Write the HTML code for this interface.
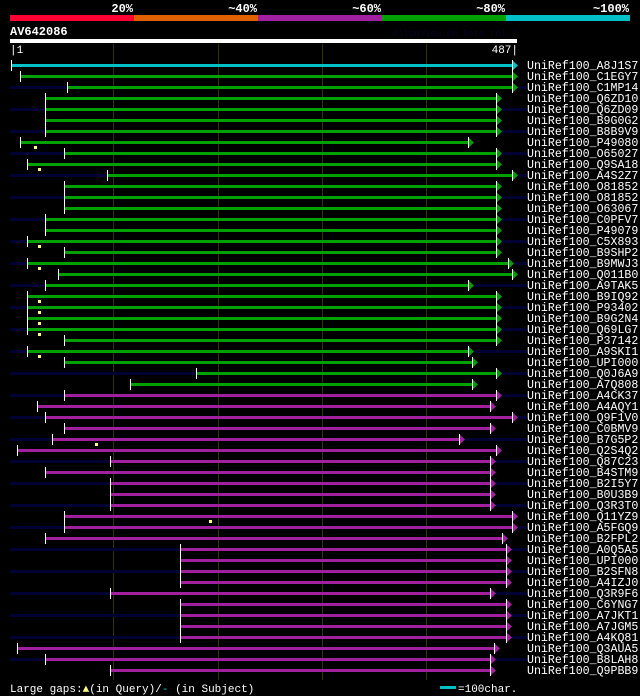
<!DOCTYPE html>
<html><head><meta charset="utf-8"><style>
body{margin:0;background:#000;width:640px;height:696px;overflow:hidden}
svg{display:block}
text{font-family:"Liberation Mono","DejaVu Sans Mono",monospace}
rect{shape-rendering:crispEdges}
</style></head><body>
<svg id="c" width="640" height="696">
<g id="hdr">
<rect x="10" y="15" width="124" height="6" fill="#ff0033"/>
<rect x="134" y="15" width="124" height="6" fill="#e06000"/>
<rect x="258" y="15" width="124" height="6" fill="#a020a0"/>
<rect x="382" y="15" width="124" height="6" fill="#00a000"/>
<rect x="506" y="15" width="124" height="6" fill="#00c0c8"/>
<g fill="#fff" font-size="12" font-weight="bold" text-anchor="end">
<text x="133" y="12">20%</text>
<text x="257" y="12">~40%</text>
<text x="381" y="12">~60%</text>
<text x="505" y="12">~80%</text>
<text x="629" y="12">~100%</text>
</g>
<text x="10" y="35" fill="#fff" font-size="12" font-weight="bold">AV642086</text>
<text x="517" y="36" fill="#050525" font-size="9" text-anchor="end">AlignView.pm Beta rel.7</text>
<rect x="10" y="39" width="507" height="4" fill="#fff"/>
<text x="10" y="53" fill="#fff" font-size="11">|1</text>
<text x="518" y="53" fill="#fff" font-size="11" text-anchor="end">487|</text>
</g>
<g id="grid"></g>
<g id="rows"></g>
<g>
<text x="10" y="692" fill="#fff" font-size="11">Large gaps:<tspan fill="#ff8">▲</tspan>(in Query)/<tspan fill="#0cc">-</tspan> (in Subject)</text>
<rect x="440" y="686" width="16" height="3" fill="#00c0c8"/>
<text x="458" y="692" fill="#fff" font-size="11">=100char.</text>
</g>
</svg>
<script>
const names=["A8J1S7","C1EGY7","C1MP14","Q6ZD10","Q6ZD09","B9G0G2","B8B9V9","P49080","O65027","Q9SA18","A4S2Z7","O81852-2","O81852","O63067","C0PFV7","P49079","C5X893","B9SHP2","B9MWJ3","Q011B0","A9TAK5","B9IQ92","P93402","B9G2N4","Q69LG7","P37142","A9SKI1","UPI000..","Q0J6A9","A7Q808","A4CK37","A4AQY1","Q9F1V0","C0BMV9","B7G5P2","Q2S4Q2","Q87C23","B4STM9","B2I5Y7","B0U3B9","Q3R3T0","Q11YZ9","A5FGQ9","B2FPL2","A0Q5A5","UPI000..","B2SFN8","A4IZJ0","Q3R9F6","C6YNG7","A7JKT1","A7JGM5","A4KQ81","Q3AUA5","B8LAH8","Q9PBB9"];
const starts=[2,11,56,35,35,35,35,11,53,17,94,53,53,53,35,35,17,53,17,47,35,17,17,17,17,53,17,53,179,116,53,27,35,53,41,8,97,35,97,97,97,53,53,35,164,164,164,164,97,164,164,164,164,8,35,97];
const ends=[482,482,482,467,467,467,467,440,467,467,482,467,467,467,467,467,467,467,478,482,440,467,467,467,467,467,440,444,467,444,467,461,482,461,431,467,461,461,461,461,461,482,482,473,476,476,476,476,461,476,476,476,476,465,461,461];
const cats=["c","g","g","g","g","g","g","g","g","g","g","g","g","g","g","g","g","g","g","g","g","g","g","g","g","g","g","g","g","g","m","m","m","m","m","m","m","m","m","m","m","m","m","m","m","m","m","m","m","m","m","m","m","m","m","m"];
const overhang=[0,0,1,0,1,0,1,0,1,0,1,0,1,0,1,0,1,0,1,0,1,0,1,0,1,0,1,0,1,0,1,0,1,0,1,0,1,0,1,0,1,0,1,0,1,0,1,0,1,0,1,0,1,0,1,0];
const gapRows=[7,9,16,18,21,22,23,24,26,34,41];
const gapPos=[25,29,29,29,29,29,29,29,29,83,193];
const gridTicks=[100,200,300,400];
const colors={c:"#00c0c8",g:"#00a000",m:"#a020a0"};
const X=r=>Math.round(10+(r-1)*507/486);
const Y=i=>65+i*11;
const NS="http://www.w3.org/2000/svg";
function mk(tag,attrs,parent){const e=document.createElementNS(NS,tag);for(const k in attrs)e.setAttribute(k,attrs[k]);parent.appendChild(e);return e;}
const grid=document.getElementById('grid'),rows=document.getElementById('rows');
gridTicks.forEach(t=>{const l=mk('rect',{x:X(t),y:44,width:1,height:636,fill:'#333300'},grid);

});
names.forEach((n,i)=>{
 const g=mk('g',{},rows);
 
 
 const y=Y(i),x1=X(starts[i]),x2=X(ends[i]),col=colors[cats[i]];
 if(overhang[i]){mk('rect',{x:10,y:y-1,width:Math.max(0,x1-10),height:3,fill:'#000033'},g);mk('rect',{x:x2+6,y:y-1,width:Math.max(0,527-x2-6),height:3,fill:'#000033'},g);}
 mk('rect',{x:x1,y:y-1,width:x2-x1,height:3,fill:col},g);
 mk('rect',{x:x1,y:y-5,width:1,height:11,fill:'#fff'},g);
 mk('polygon',{points:`${x2},${y-5} ${x2+6},${y+0.5} ${x2},${y+6}`,fill:col},g);
 mk('rect',{x:x2,y:y-5,width:1,height:11,fill:'#fff'},g);
 const t=mk('text',{x:527,y:y+4,fill:'#fff','font-size':11.6},g);t.textContent='UniRef100_'+n;
});
gapRows.forEach((r,k)=>{const x=X(gapPos[k]),y=Y(r);
 const p=mk('rect',{x:x-1,y:y+4,width:3,height:3,fill:'#ffff80'},rows);
 
 });
</script>
</body></html>
